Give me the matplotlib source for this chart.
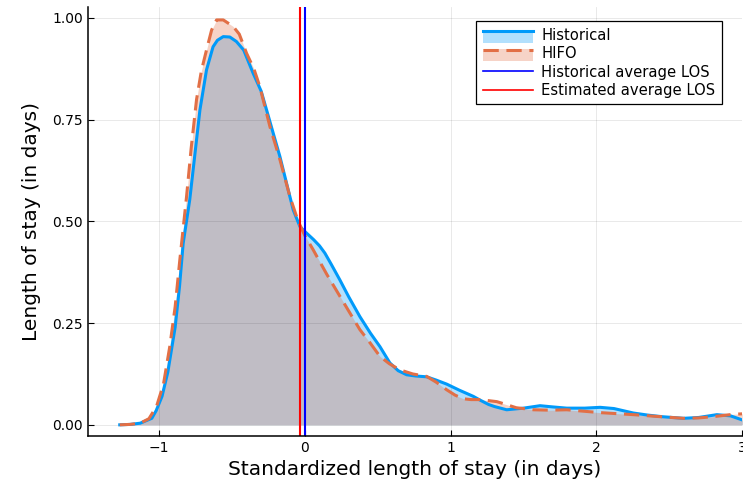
import matplotlib
matplotlib.use("Agg")
import matplotlib.pyplot as plt
from matplotlib.legend_handler import HandlerBase
from matplotlib.patches import Rectangle
from matplotlib.lines import Line2D

# Historical density curve
hist_x = [-1.27, -1.20, -1.13, -1.05, -1.02, -0.98, -0.94, -0.89, -0.86, -0.835,
          -0.79, -0.72, -0.675, -0.63, -0.60, -0.56, -0.515, -0.47, -0.42, -0.355,
          -0.30, -0.263, -0.22, -0.172, -0.103, -0.08, -0.034, 0.012, 0.06, 0.10,
          0.137, 0.18, 0.24, 0.30, 0.377, 0.45, 0.515, 0.583, 0.64, 0.698,
          0.76, 0.835, 0.90, 0.973, 1.06, 1.155, 1.20, 1.26, 1.30, 1.384,
          1.50, 1.613, 1.70, 1.796, 1.92, 2.025, 2.12, 2.253, 2.35, 2.45,
          2.597, 2.70, 2.826, 2.92, 3.0]
hist_y = [0.0, 0.001, 0.004, 0.016, 0.035, 0.07, 0.13, 0.24, 0.34, 0.446,
          0.553, 0.774, 0.872, 0.929, 0.945, 0.954, 0.953, 0.942, 0.921, 0.864,
          0.82, 0.774, 0.72, 0.66, 0.561, 0.528, 0.487, 0.471, 0.455, 0.44,
          0.422, 0.395, 0.356, 0.315, 0.266, 0.225, 0.192, 0.152, 0.133, 0.123,
          0.12, 0.118, 0.11, 0.100, 0.085, 0.07, 0.061, 0.05, 0.045, 0.037,
          0.041, 0.047, 0.044, 0.041, 0.041, 0.043, 0.04, 0.029, 0.024, 0.02,
          0.016, 0.018, 0.025, 0.022, 0.012]

# HIFO density curve
hifo_x = [-1.27, -1.20, -1.13, -1.07, -1.018, -0.97, -0.927, -0.89, -0.858, -0.812,
          -0.78, -0.743, -0.71, -0.675, -0.64, -0.606, -0.56, -0.492, -0.45, -0.40,
          -0.35, -0.309, -0.24, -0.17, -0.103, -0.046, 0.0, 0.057, 0.15, 0.24,
          0.30, 0.377, 0.45, 0.515, 0.58, 0.652, 0.74, 0.835, 0.90, 0.973,
          1.03, 1.087, 1.14, 1.20, 1.316, 1.38, 1.45, 1.567, 1.68, 1.796,
          2.025, 2.253, 2.4, 2.597, 2.7, 2.80, 2.94, 3.0]
hifo_y = [0.0, 0.001, 0.004, 0.015, 0.045, 0.1, 0.192, 0.29, 0.405, 0.56,
          0.68, 0.80, 0.87, 0.921, 0.97, 0.995, 0.995, 0.979, 0.96, 0.913,
          0.875, 0.831, 0.733, 0.65, 0.561, 0.50, 0.465, 0.43, 0.37, 0.316,
          0.28, 0.234, 0.2, 0.168, 0.15, 0.135, 0.125, 0.119, 0.105, 0.086,
          0.073, 0.064, 0.062, 0.062, 0.057, 0.05, 0.042, 0.037, 0.036, 0.037,
          0.030, 0.025, 0.021, 0.016, 0.017, 0.02, 0.026, 0.027]

hist_avg = 0.003
est_avg = -0.035

blue = "#009AFA"
orange = "#E26F46"


class FillLineHandler(HandlerBase):
    def create_artists(self, legend, orig_handle, xd, yd, w, h, fontsize, trans):
        col, ls = orig_handle
        r = Rectangle((xd, yd - 0.3 * h), w, h * 1.2, facecolor=col, alpha=0.3,
                      edgecolor="none", transform=trans)
        l = Line2D([xd, xd + w], [yd + 0.85 * h, yd + 0.85 * h], color=col, lw=2.2,
                   ls=ls, transform=trans)
        if ls == "--":
            l.set_dashes((5, 2.5))
        return [r, l]


fig = plt.figure(figsize=(7.43, 4.93), dpi=100)
ax = fig.add_axes([0.118, 0.116, 0.881, 0.87])

ax.fill_between(hist_x, 0, hist_y, color=blue, alpha=0.3, lw=0)
ax.plot(hist_x, hist_y, color=blue, lw=2.2)
ax.fill_between(hifo_x, 0, hifo_y, color=orange, alpha=0.3, lw=0)
ax.plot(hifo_x, hifo_y, color=orange, lw=2.2, dashes=(5, 2.5))
ax.axvline(hist_avg, color="#0000FF", lw=1.5)
ax.axvline(est_avg, color="#FF0000", lw=1.5)

ax.set_xlim(-1.49, 3.0)
ax.set_ylim(-0.027, 1.027)
ax.set_xticks([-1, 0, 1, 2, 3])
ax.set_xticklabels(["\u22121", "0", "1", "2", "3"])
ax.set_yticks([0, 0.25, 0.5, 0.75, 1.0])
ax.set_yticklabels(["0.00", "0.25", "0.50", "0.75", "1.00"])
ax.tick_params(direction="in", length=4, labelsize=10)
ax.grid(True, color="black", alpha=0.1, lw=0.6)
for s in ["top", "right"]:
    ax.spines[s].set_visible(False)
for s in ["left", "bottom"]:
    ax.spines[s].set_linewidth(1.1)

ax.set_xlabel("Standardized length of stay (in days)", fontsize=14.5)
ax.set_ylabel("Length of stay (in days)", fontsize=14.5, labelpad=8)

handles = [(blue, "-"), (orange, "--"),
           Line2D([], [], color="#0000FF", lw=1.2),
           Line2D([], [], color="#FF0000", lw=1.2)]
labels = ["Historical", "HIFO", "Historical average LOS", "Estimated average LOS"]
leg = ax.legend(handles, labels, handler_map={tuple: FillLineHandler()},
                loc="upper right", bbox_to_anchor=(0.969, 0.966), fontsize=10.6,
                fancybox=False, edgecolor="black", framealpha=1,
                borderpad=0.45, labelspacing=0.22, handlelength=3.4, handletextpad=0.55,
                borderaxespad=0)
leg.get_frame().set_linewidth(0.9)

fig.savefig("out.png", dpi=100)
